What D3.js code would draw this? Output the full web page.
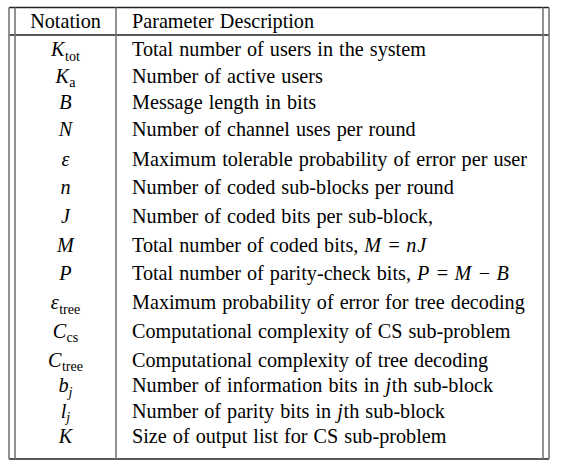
<!DOCTYPE html>
<html><head><meta charset="utf-8">
<script src="https://cdn.jsdelivr.net/npm/d3@7"></script>
<style>html,body{margin:0;padding:0;background:#fff;}</style>
</head><body>
<svg id="chart" width="566" height="473"></svg>
<script>
const headers = ["Notation", "Parameter Description"];
const symbols = ["K","K","B","N","ε","n","J","M","P","ε","C","C","b","l","K"];
const subscripts = ["tot","a","","","","","","","","tree","cs","tree","j","j",""];
const descriptions = [
  "Total number of users in the system",
  "Number of active users",
  "Message length in bits",
  "Number of channel uses per round",
  "Maximum tolerable probability of error per user",
  "Number of coded sub-blocks per round",
  "Number of coded bits per sub-block,",
  "Total number of coded bits, $M$ = $nJ$",
  "Total number of parity-check bits, $P$ = $M$ − $B$",
  "Maximum probability of error for tree decoding",
  "Computational complexity of CS sub-problem",
  "Computational complexity of tree decoding",
  "Number of information bits in $j$th sub-block",
  "Number of parity bits in $j$th sub-block",
  "Size of output list for CS sub-problem"
];

(function () {
const svg = d3.select("#chart");
const font = "'Liberation Serif', 'Times New Roman', serif";
const xLeft = 9, xRight = 549, innerL = 15, innerR = 543, colSep = 116;
const yTop = 7.5, headBottom = 35, yBottom = 459;
const fs = 20.2;
const base = 6.5;

// piecewise row-centre scale (reference rows are not evenly spaced)
const n = descriptions.length;
const y = d3.scaleLinear().domain([0, 3, 4, 11, n - 1]).range([49.5, 129, 159, 360, 436.5]);
const xCol = d3.scaleOrdinal().domain(headers).range([(innerL + colSep) / 2, 132]);

// lines
const hLines = [yTop, headBottom, yBottom];
svg.selectAll("line.h").data(hLines).join("line").attr("class", "h")
  .attr("x1", xLeft).attr("x2", xRight).attr("y1", d => d).attr("y2", d => d)
  .attr("stroke", "#222").attr("stroke-width", 1.4);
const vLines = [xLeft, innerL, colSep, innerR, xRight];
svg.selectAll("line.v").data(vLines).join("line").attr("class", "v")
  .attr("x1", d => d).attr("x2", d => d).attr("y1", yTop).attr("y2", yBottom)
  .attr("stroke", "#777").attr("stroke-width", 1.6);

// header
svg.append("text").attr("x", xCol(headers[0])).attr("y", (yTop + headBottom) / 2 + base)
  .attr("text-anchor", "middle").attr("font-family", font).attr("font-size", fs).text(headers[0]);
svg.append("text").attr("x", xCol(headers[1])).attr("y", (yTop + headBottom) / 2 + base)
  .attr("font-family", font).attr("font-size", fs).attr("word-spacing", 1).text(headers[1]);

const rows = svg.selectAll("g.row").data(descriptions.map((d, i) => ({i, d})))
  .join("g").attr("class", "row")
  .attr("transform", r => `translate(0,${y(r.i) + base})`);

// notation
rows.append("text").attr("x", xCol(headers[0])).attr("text-anchor", "middle")
  .attr("font-family", font).attr("font-size", fs)
  .each(function(r) {
    const t = d3.select(this);
    t.append("tspan").attr("font-style", "italic").text(symbols[r.i]);
    const s = subscripts[r.i];
    if (s) {
      t.append("tspan").attr("dy", 4.5).attr("dx", s === "j" ? 0 : 0.5).attr("font-size", fs * 0.7)
        .attr("font-style", s === "j" ? "italic" : "normal").text(s);
    }
  });

// description
const ops = new Set(["=", "−"]);
rows.append("text").attr("x", xCol(headers[1]))
  .attr("font-family", font).attr("font-size", fs).attr("word-spacing", 1.0)
  .each(function(r) {
    const t = d3.select(this);
    let pad = 0;
    r.d.split("$").forEach((seg, k) => {
      if (!seg) return;
      if (ops.has(seg.trim())) {
        t.append("tspan").attr("dx", 6.5).text(seg.trim());
        pad = 6.5;
        return;
      }
      const sp = t.append("tspan").attr("font-style", k % 2 ? "italic" : "normal")
        .attr("xml:space", "preserve").text(seg);
      if (k % 2) sp.attr("letter-spacing", 0.8);
      if (pad) { sp.attr("dx", pad); pad = 0; }
    });
  });
})();
</script>
</body></html>
